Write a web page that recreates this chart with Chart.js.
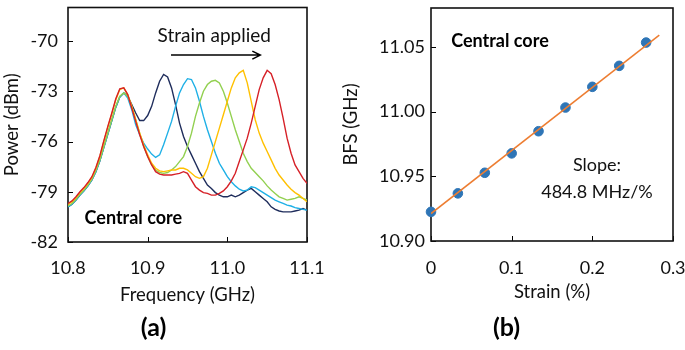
<!DOCTYPE html>
<html>
<head>
<meta charset="utf-8">
<script src="https://cdn.jsdelivr.net/npm/chart.js@4.4.1/dist/chart.umd.min.js"></script>
<style>
  html, body { margin: 0; padding: 0; background: #fff; }
  #wrapA { position: absolute; left: 0; top: 0; width: 340px; height: 350px; }
  #wrapB { position: absolute; left: 340px; top: 0; width: 345px; height: 350px; }
</style>
</head>
<body>
<div id="wrapA"><canvas id="chartA"></canvas></div>
<div id="wrapB"><canvas id="chartB"></canvas></div>
<script>
// (a) spectra, every 5 MHz
const frequency = [
  10.800, 10.805, 10.810, 10.815, 10.820, 10.825, 10.830, 10.835, 10.840, 10.845,
  10.850, 10.855, 10.860, 10.865, 10.870, 10.875, 10.880, 10.885, 10.890, 10.895,
  10.900, 10.905, 10.910, 10.915, 10.920, 10.925, 10.930, 10.935, 10.940, 10.945,
  10.950, 10.955, 10.960, 10.965, 10.970, 10.975, 10.980, 10.985, 10.990, 10.995,
  11.000, 11.005, 11.010, 11.015, 11.020, 11.025, 11.030, 11.035, 11.040, 11.045,
  11.050, 11.055, 11.060, 11.065, 11.070, 11.075, 11.080, 11.085, 11.090, 11.095,
  11.100
];

const powerNavy = [
  -79.9, -79.75, -79.5, -79.2, -78.95, -78.65, -78.3, -77.8, -77.15, -76.35,
  -75.55, -74.75, -73.95, -73.35, -73.1, -73.3, -73.8, -74.3, -74.75, -74.75,
  -74.45, -73.9, -73.1, -72.4, -72.0, -72.15, -72.8, -73.8, -74.9, -75.7,
  -76.3, -76.8, -77.3, -77.8, -78.2, -78.6, -78.8, -79.05, -79.2, -79.3,
  -79.3, -79.2, -79.3, -79.2, -79.05, -78.9, -78.8, -79.0, -79.2, -79.4,
  -79.6, -79.9, -80.05, -80.15, -80.2, -80.2, -80.2, -80.15, -80.1, -80.0,
  -80.1
];

const powerCyan = [
  -79.9, -79.75, -79.5, -79.2, -78.95, -78.65, -78.3, -77.8, -77.15, -76.35,
  -75.55, -74.75, -73.95, -73.35, -73.1, -73.4, -74.1, -75.0, -75.6, -76.1,
  -76.45, -76.75, -76.95, -76.8, -76.2, -75.5, -74.8, -73.9, -73.1, -72.6,
  -72.25, -72.3, -72.8, -73.6, -74.5, -75.3, -76.0, -76.7, -77.3, -77.7,
  -78.1, -78.4, -78.65, -78.85, -78.95, -78.9, -78.7, -78.75, -78.9, -79.05,
  -79.2, -79.35, -79.5, -79.6, -79.7, -79.8, -79.85, -79.95, -80.0, -80.05,
  -80.1
];

const powerGreen = [
  -79.85, -79.7, -79.45, -79.15, -78.9, -78.6, -78.25, -77.75, -77.1, -76.3,
  -75.5, -74.7, -73.9, -73.3, -73.1, -73.3, -73.9, -74.7, -75.5, -76.3,
  -76.9, -77.4, -77.7, -77.85, -77.9, -77.85, -77.7, -77.5, -77.2, -76.9,
  -76.3, -75.5, -74.5, -73.7, -73.0, -72.6, -72.4, -72.35, -72.5, -73.0,
  -73.7, -74.5, -75.3, -76.0, -76.7, -77.2, -77.6, -77.85, -78.1, -78.35,
  -78.65, -78.9, -79.1, -79.3, -79.4, -79.5, -79.45, -79.4, -79.3, -79.4,
  -79.5
];

const powerYellow = [
  -79.75, -79.6, -79.35, -79.05, -78.8, -78.5, -78.15, -77.6, -76.9, -76.0,
  -75.15, -74.35, -73.5, -72.9, -72.8, -73.2, -73.9, -74.7, -75.5, -76.2,
  -76.8, -77.3, -77.6, -77.75, -77.8, -77.75, -77.7, -77.7, -77.6, -77.6,
  -77.7, -77.9, -78.1, -78.2, -78.1, -77.6, -76.8, -76.0, -75.2, -74.4,
  -73.6, -72.8, -72.2, -71.9, -71.75, -72.5, -73.6, -74.7, -75.5, -76.1,
  -76.6, -77.1, -77.6, -78.0, -78.3, -78.6, -78.85, -79.05, -79.2, -79.4,
  -79.6
];

const powerRed = [
  -79.7, -79.55, -79.3, -79.0, -78.75, -78.45, -78.1, -77.55, -76.85, -75.95,
  -75.1, -74.3, -73.45, -72.85, -72.8, -73.2, -74.0, -74.8, -75.6, -76.3,
  -76.9, -77.4, -77.8, -77.95, -78.0, -78.0, -78.0, -77.95, -77.9, -77.8,
  -77.9, -78.3, -78.7, -78.9, -79.05, -79.1, -79.2, -79.2, -79.1, -78.95,
  -78.7, -78.35, -77.9, -77.2, -76.5, -75.8, -74.9, -73.9, -72.9, -72.2,
  -71.75, -71.95, -72.6, -73.5, -74.6, -75.8, -76.7, -77.4, -77.8, -78.2,
  -78.5
];

// (b) Brillouin frequency shift vs strain
const strain = [0, 0.0333, 0.0667, 0.1, 0.1333, 0.1667, 0.2, 0.2333, 0.2667];
const bfs = [10.9225, 10.9368, 10.9527, 10.9677, 10.9848, 11.0031, 11.0191, 11.0353, 11.0533];
const fitStrain = [0, 0.283];
const fitBfs = [10.9212, 11.0590];

// tick labels
const ticksAx = [10.8, 10.9, 11.0, 11.1];
const ticksAy = [-82, -79, -76, -73, -70];
const ticksBx = [0, 0.1, 0.2, 0.3];
const ticksBy = [10.90, 10.95, 11.00, 11.05];

Chart.defaults.font.family = 'Lato';
Chart.defaults.font.size = 17;
Chart.defaults.color = '#111';

function toPoints(xs, ys) {
    return xs.map((x, i) => ({ x: x, y: ys[i] }));
}

function lineSet(data, color) {
    return {
        data: toPoints(frequency, data),
        borderColor: color,
        borderWidth: 1.4,
        pointRadius: 0,
        tension: 0,
        fill: false
    };
}

// frame round the plot area plus inward tick marks
const frameTicks = {
    id: 'frameTicks',
    beforeDatasetsDraw(chart) {
        const { ctx, chartArea: a, scales } = chart;
        ctx.save();
        ctx.strokeStyle = '#000';
        ctx.lineWidth = 1;
        scales.x.ticks.forEach(t => {
            const px = Math.round(scales.x.getPixelForValue(t.value)) + 0.5;
            ctx.beginPath();
            ctx.moveTo(px, a.bottom);
            ctx.lineTo(px, a.bottom - 5);
            ctx.stroke();
        });
        scales.y.ticks.forEach(t => {
            const py = Math.round(scales.y.getPixelForValue(t.value)) + 0.5;
            ctx.beginPath();
            ctx.moveTo(a.left, py);
            ctx.lineTo(a.left + 5, py);
            ctx.stroke();
        });
        ctx.lineWidth = 1.6;
        ctx.strokeStyle = '#111';
        ctx.strokeRect(a.left, a.top, a.width, a.height);
        ctx.restore();
    }
};

// text and arrow notes placed in data coordinates
const notes = {
    id: 'notes',
    afterDatasetsDraw(chart, args, opts) {
        const { ctx, scales } = chart;
        ctx.save();
        (opts.items || []).forEach(n => {
            if (n.arrow) {
                const x1 = scales.x.getPixelForValue(n.from[0]);
                const x2 = scales.x.getPixelForValue(n.to[0]);
                const y = scales.y.getPixelForValue(n.from[1]);
                ctx.strokeStyle = '#000';
                ctx.lineWidth = 1.5;
                ctx.beginPath();
                ctx.moveTo(x1, y);
                ctx.lineTo(x2, y);
                ctx.moveTo(x2 - 8, y - 4);
                ctx.lineTo(x2, y);
                ctx.lineTo(x2 - 8, y + 4);
                ctx.stroke();
                return;
            }
            ctx.font = (n.bold ? 'bold ' : '') + n.size + 'px Lato';
            ctx.fillStyle = n.bold ? '#000' : '#111';
            ctx.textAlign = 'center';
            ctx.textBaseline = 'middle';
            ctx.fillText(n.text, scales.x.getPixelForValue(n.at[0]), scales.y.getPixelForValue(n.at[1]));
        });
        ctx.restore();
    }
};

function fixedX(h) {
    return function (scale) {
        scale.height = h;
        scale.paddingLeft = 0;
        scale.paddingRight = 0;
    };
}

function fixedY(w) {
    return function (scale) {
        scale.width = w;
        scale.paddingTop = 0;
        scale.paddingBottom = 0;
    };
}

const chartA = new Chart(document.getElementById('chartA'), {
    type: 'line',
    data: {
        datasets: [
            lineSet(powerRed, '#d62027'),
            lineSet(powerYellow, '#ffc000'),
            lineSet(powerGreen, '#92d050'),
            lineSet(powerCyan, '#1fb0e6'),
            lineSet(powerNavy, '#1f2d5c')
        ]
    },
    options: {
        responsive: true,
        maintainAspectRatio: false,
        animation: false,
        layout: { padding: { top: 7.5, right: 33, bottom: 0, left: 0 } },
        plugins: {
            legend: { display: false },
            tooltip: { enabled: false },
            title: {
                display: true,
                text: '(a)',
                position: 'bottom',
                font: { size: 25, weight: 'bold' },
                color: '#000',
                padding: { top: 1, bottom: 7 }
            },
            notes: {
                items: [
                    { text: 'Strain applied', at: [10.9836, -69.7], size: 19 },
                    { arrow: true, from: [10.9293, -70.84], to: [11.0414, -70.84] },
                    { text: 'Central core', at: [10.882, -80.58], size: 18, bold: true }
                ]
            }
        },
        scales: {
            x: {
                type: 'linear',
                min: 10.8,
                max: 11.1,
                grid: { display: false, drawTicks: false },
                border: { display: false },
                afterBuildTicks: s => { s.ticks = ticksAx.map(v => ({ value: v })); },
                afterFit: fixedX(70),
                ticks: { padding: 15.8, font: { size: 18 }, callback: v => v.toFixed(1) },
                title: { display: true, text: 'Frequency (GHz)', font: { size: 18.5 }, padding: { top: 0, bottom: 6 } }
            },
            y: {
                min: -82,
                max: -68,
                grid: { display: false, drawTicks: false },
                border: { display: false },
                afterBuildTicks: s => { s.ticks = ticksAy.map(v => ({ value: v })); },
                afterFit: fixedY(68),
                ticks: { padding: 10, font: { size: 18 } },
                title: { display: true, text: 'Power (dBm)', font: { size: 18.5 }, padding: { top: 1, bottom: 0 } }
            }
        }
    },
    plugins: [frameTicks, notes]
});

const chartB = new Chart(document.getElementById('chartB'), {
    type: 'scatter',
    data: {
        datasets: [
            {
                type: 'line',
                data: toPoints(fitStrain, fitBfs),
                borderColor: '#ed7d31',
                borderWidth: 1.5,
                pointRadius: 0,
                fill: false
            },
            {
                data: toPoints(strain, bfs),
                backgroundColor: '#2e75b6',
                borderColor: '#2e75b6',
                pointRadius: 4.8,
                clip: false
            }
        ]
    },
    options: {
        responsive: true,
        maintainAspectRatio: false,
        animation: false,
        layout: { padding: { top: 8, right: 12, bottom: 0, left: 0 } },
        plugins: {
            legend: { display: false },
            tooltip: { enabled: false },
            title: {
                display: true,
                text: '(b)',
                position: 'bottom',
                font: { size: 25, weight: 'bold' },
                color: '#000',
                padding: { top: 1, bottom: 7 }
            },
            notes: {
                items: [
                    { text: 'Central core', at: [0.0855, 11.0546], size: 18, bold: true },
                    { text: 'Slope:', at: [0.2058, 10.9582], size: 18 },
                    { text: '484.8 MHz/%', at: [0.2058, 10.9375], size: 18 }
                ]
            }
        },
        scales: {
            x: {
                type: 'linear',
                min: 0,
                max: 0.3,
                grid: { display: false, drawTicks: false },
                border: { display: false },
                afterBuildTicks: s => { s.ticks = ticksBx.map(v => ({ value: v })); },
                afterFit: fixedX(71),
                ticks: { padding: 16.8, font: { size: 18 }, callback: v => v === 0 ? '0' : v.toFixed(1) },
                title: { display: true, text: 'Strain (%)', font: { size: 18.5 }, padding: { top: 0, bottom: 9 } }
            },
            y: {
                min: 10.90,
                max: 11.08,
                grid: { display: false, drawTicks: false },
                border: { display: false },
                afterBuildTicks: s => { s.ticks = ticksBy.map(v => ({ value: v })); },
                afterFit: fixedY(91),
                ticks: { padding: 6, font: { size: 18 }, callback: v => v.toFixed(2) },
                title: { display: true, text: 'BFS (GHz)', font: { size: 18.5 }, padding: { top: 0, bottom: 0 } }
            }
        }
    },
    plugins: [frameTicks, notes]
});
</script>
</body>
</html>
